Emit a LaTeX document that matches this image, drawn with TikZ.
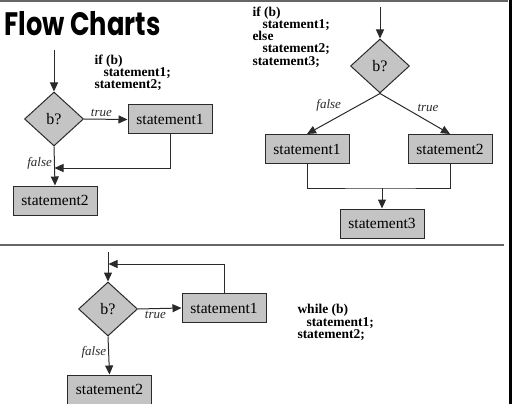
\documentclass[tikz,border=0pt]{standalone}
\usepackage{fontspec}
\usepackage{graphicx}
\setmainfont{Liberation Serif}
\newfontfamily\titlefont{Poppins}
\usetikzlibrary{arrows.meta,positioning,shapes.geometric}

\definecolor{boxgray}{HTML}{C4C4C4}
\definecolor{linegray}{HTML}{2A2A2A}

\begin{document}
\begin{tikzpicture}[x=1pt,y=-1pt,>={Triangle[length=9pt,width=8pt]},
  line width=1pt,draw=linegray,
  box/.style={draw=linegray,fill=boxgray,minimum width=84pt,minimum height=29pt,inner sep=0pt,
    font=\rmfamily\fontsize{15.5}{16}\selectfont},
  cond/.style={diamond,draw=linegray,fill=boxgray,minimum width=59pt,minimum height=54pt,inner sep=0pt,
    font=\rmfamily\fontsize{16}{17}\selectfont},
  code/.style={align=left,inner sep=0pt,anchor=north west,font=\rmfamily\fontsize{13.5}{12.3}\selectfont\bfseries},
  lbl/.style={font=\rmfamily\fontsize{13}{14}\selectfont\itshape,text=linegray,inner sep=2pt}]
\useasboundingbox (0,0) rectangle (512,404);
% frame
\fill[black] (509,0) rectangle (512,404);
\draw[gray!80!black,line width=1.5pt] (0,1) -- (508,1);
\draw[gray!80!black,line width=1.5pt] (0,245) -- (504,245);
\node[anchor=south west,inner sep=0pt] (title) at (4,36)
  {\resizebox{156pt}{24pt}{\titlefont\bfseries Flow Charts}};

% if
\node[code] (ifcode) at (94,54) {if (b)\\\hspace*{9pt}statement1;\\statement2;};
\coordinate (in1) at (54,50);
\node[cond] (d1) at (54,119) {b?};
\node[box] (s11) at (170,119.5) {statement1};
\node[box] (s12) at (55,200.5) {statement2};
\coordinate (m1) at (54.5,168);
\draw[->] (in1) -- (d1.north);
\draw[->] (d1.east) -- node[lbl,above,pos=0.4] {true} (s11.west);
\draw[->] (s11.south) |- (m1);
\draw[->] (d1.south) -- node[lbl,left,pos=0.42] {false} (s12.north);

% if-else
\node[code] (elsecode) at (252,6) {if (b)\\\hspace*{10pt}statement1;\\else\\\hspace*{10pt}statement2;\\statement3;};
\coordinate (in2) at (380,7);
\node[cond] (d2) at (380,66) {b?};
\node[box] (s21) at (307,149) {statement1};
\node[box] (s22) at (450,149) {statement2};
\node[box] (s23) at (382,223.5) {statement3};
\coordinate (m2) at (382,188);
\draw[->] (in2) -- (d2.north);
\draw[->] (d2.south) -- node[lbl,above left,pos=0.5] {false} (s21.north);
\draw[->] (d2.south) -- node[lbl,above right,pos=0.5] {true} (s22.north);
\draw (s21.south) |- (m2) -| (s22.south);
\draw[->] (m2) -- (s23.north);

% while
\node[code] (whilecode) at (297,304) {while (b)\\\hspace*{9pt}statement1;\\statement2;};
\coordinate (in3) at (108,252);
\node[cond] (d3) at (108,309) {b?};
\node[box] (s31) at (224,308) {statement1};
\node[box] (s32) at (109.5,389.5) {statement2};
\coordinate (m3) at (108.5,264);
\draw[->] (in3) -- (d3.north);
\draw[->] (d3.east) -- node[lbl,below,pos=0.4] {true} (s31.west);
\draw[->] (s31.north) |- (m3);
\draw[->] (d3.south) -- node[lbl,left,pos=0.42] {false} (s32.north);
\end{tikzpicture}
\end{document}
